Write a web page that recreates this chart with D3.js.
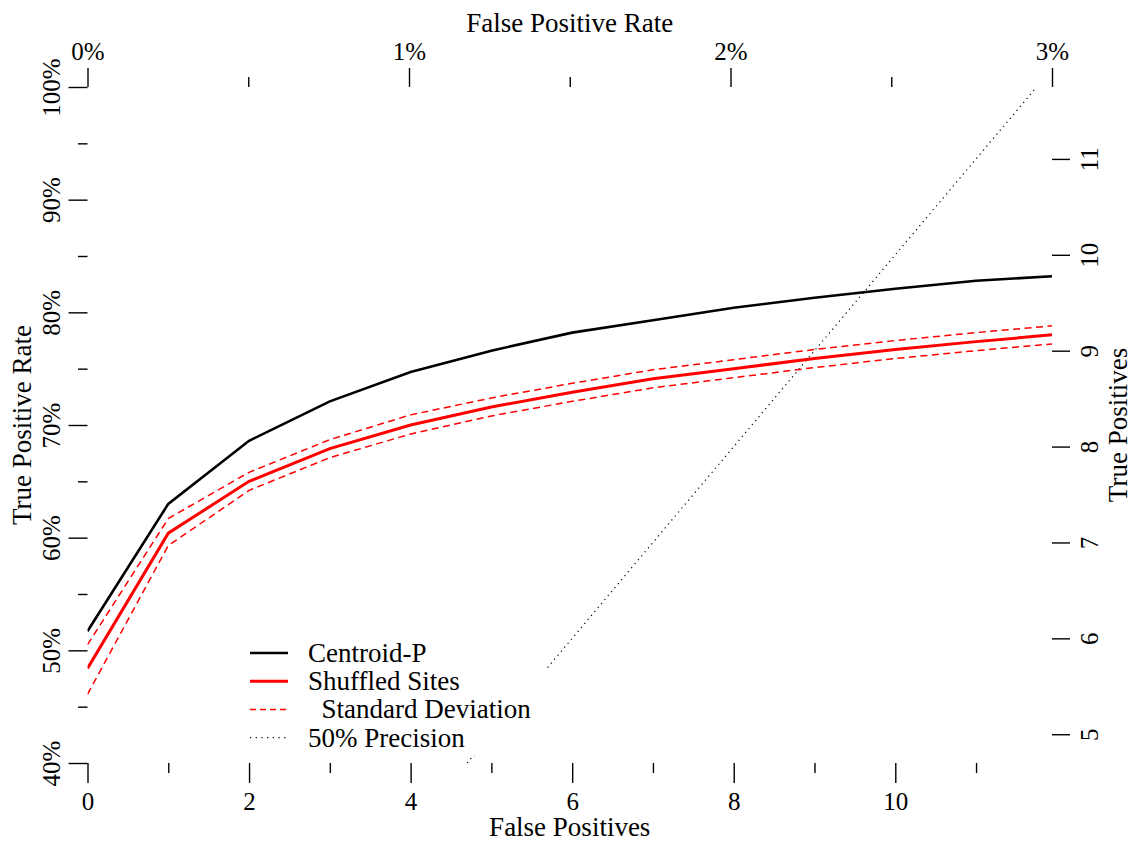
<!DOCTYPE html>
<meta charset="utf-8">
<style>
body { margin: 0; background: #fff; }
text { font-family: "Liberation Serif", "Times New Roman", serif; fill: #000; }
.tick text { font-size: 25px; }
.title, .legend text { font-size: 27px; }
.tick line { stroke: #000; stroke-width: 1.4px; }
.curve { fill: none; }
</style>
<body>
<script src="https://d3js.org/d3.v7.min.js"></script>
<script>

var width = 1133,
    height = 842;
var margin = {top: 87, right: 81, bottom: 79, left: 87.5};

// data
var falsePositives = [0, 1, 2, 3, 4, 5, 6, 7, 8, 9, 10, 11, 11.94];
var centroidP = [0.517, 0.630, 0.686, 0.721, 0.747, 0.766, 0.782, 0.793, 0.804, 0.813, 0.821, 0.828, 0.832];
var shuffledMean = [0.484, 0.604, 0.650, 0.679, 0.700, 0.716, 0.729, 0.741, 0.750, 0.759, 0.767, 0.774, 0.780];
var shuffledUpper = [0.505, 0.617, 0.658, 0.687, 0.709, 0.724, 0.737, 0.749, 0.758, 0.767, 0.775, 0.782, 0.788];
var shuffledLower = [0.461, 0.593, 0.642, 0.671, 0.692, 0.708, 0.721, 0.733, 0.742, 0.751, 0.759, 0.766, 0.772];

var negatives = 398;     // false positive rate denominator
var positives = 11.75;   // true positive rate denominator

var bottomMajor = [0, 2, 4, 6, 8, 10];
var bottomMinor = [1, 3, 5, 7, 9, 11];
var topMajor = [0, 0.01, 0.02, 0.03];
var topMinor = [0.005, 0.015, 0.025];
var leftMajor = [0.4, 0.5, 0.6, 0.7, 0.8, 0.9, 1.0];
var leftMinor = [0.45, 0.55, 0.65, 0.75, 0.85, 0.95];
var rightTicks = [5, 6, 7, 8, 9, 10, 11];

var legendItems = ["Centroid-P", "Shuffled Sites", "  Standard Deviation", "50% Precision"];

var x = d3.scaleLinear()
    .domain([0, 0.03 * negatives])
    .range([margin.left, width - margin.right]);
var xTop = d3.scaleLinear()
    .domain([0, 0.03])
    .range([x(0), x(0.03 * negatives)]);
var y = d3.scaleLinear()
    .domain([0.4, 1.0])
    .range([height - margin.bottom, margin.top]);
var yRight = d3.scaleLinear()
    .domain([0, positives])
    .range([y(0), y(1)]);

var svg = d3.select("body").append("svg")
    .attr("width", width)
    .attr("height", height);

svg.append("clipPath").attr("id", "plot")
  .append("rect")
    .attr("x", x.range()[0]).attr("y", y.range()[1])
    .attr("width", x.range()[1] - x.range()[0])
    .attr("height", y.range()[0] - y.range()[1]);

function styleAxis(g) {
  g.attr("font-family", null).attr("font-size", null);
  g.select(".domain").remove();
}

// bottom axis
svg.append("g")
    .attr("transform", "translate(0," + y.range()[0] + ")")
    .call(d3.axisBottom(x).tickValues(bottomMajor).tickSize(20).tickFormat(d3.format("d")))
    .call(styleAxis)
    .selectAll("text").attr("y", 47).attr("dy", null);
svg.append("g")
    .attr("transform", "translate(0," + y.range()[0] + ")")
    .call(d3.axisBottom(x).tickValues(bottomMinor).tickSize(10).tickFormat(""))
    .call(styleAxis);

// top axis
svg.append("g")
    .attr("transform", "translate(0," + y.range()[1] + ")")
    .call(d3.axisTop(xTop).tickValues(topMajor).tickSize(19).tickFormat(d3.format(".0%")))
    .call(styleAxis)
    .selectAll("text").attr("y", -27).attr("dy", null);
svg.append("g")
    .attr("transform", "translate(0," + y.range()[1] + ")")
    .call(d3.axisTop(xTop).tickValues(topMinor).tickSize(10).tickFormat(""))
    .call(styleAxis);

// left axis
svg.append("g")
    .attr("transform", "translate(" + x.range()[0] + ",0)")
    .call(d3.axisLeft(y).tickValues(leftMajor).tickSize(19).tickFormat(d3.format(".0%")))
    .call(styleAxis)
    .selectAll("text")
    .attr("transform", "rotate(-90)")
    .attr("x", 0).attr("y", -28).attr("dy", null)
    .attr("text-anchor", "middle");
svg.append("g")
    .attr("transform", "translate(" + x.range()[0] + ",0)")
    .call(d3.axisLeft(y).tickValues(leftMinor).tickSize(9.5).tickFormat(""))
    .call(styleAxis);

// right axis
svg.append("g")
    .attr("transform", "translate(" + x.range()[1] + ",0)")
    .call(d3.axisRight(yRight).tickValues(rightTicks).tickSize(18).tickFormat(d3.format("d")))
    .call(styleAxis)
    .selectAll("text")
    .attr("transform", "rotate(-90)")
    .attr("x", 0).attr("y", 46).attr("dy", null)
    .attr("text-anchor", "middle");

// axis titles
var midX = (x.range()[0] + x.range()[1]) / 2,
    midY = (y.range()[0] + y.range()[1]) / 2;
svg.append("text").attr("class", "title").attr("x", midX).attr("y", 32)
    .attr("text-anchor", "middle").text("False Positive Rate");
svg.append("text").attr("class", "title").attr("x", midX).attr("y", 836)
    .attr("text-anchor", "middle").text("False Positives");
svg.append("text").attr("class", "title").attr("transform", "translate(31," + midY + ") rotate(-90)")
    .attr("text-anchor", "middle").text("True Positive Rate");
svg.append("text").attr("class", "title").attr("transform", "translate(1127," + midY + ") rotate(-90)")
    .attr("text-anchor", "middle").text("True Positives");

var line = d3.line()
    .x(function(d, i) { return x(falsePositives[i]); })
    .y(function(d) { return y(d); });

var plot = svg.append("g").attr("clip-path", "url(#plot)");

// 50% precision: true positives == false positives
plot.append("path")
    .datum([0.4 * positives, positives])
    .attr("class", "curve")
    .attr("d", d3.line().x(function(d) { return x(d); }).y(function(d) { return yRight(d); }))
    .attr("stroke", "#000")
    .attr("stroke-width", 1.2)
    .attr("stroke-dasharray", "1.2,4");

plot.append("path").datum(shuffledUpper).attr("class", "curve").attr("d", line)
    .attr("stroke", "#ff0000").attr("stroke-width", 1.5).attr("stroke-dasharray", "7,4.5");
plot.append("path").datum(shuffledLower).attr("class", "curve").attr("d", line)
    .attr("stroke", "#ff0000").attr("stroke-width", 1.5).attr("stroke-dasharray", "7,4.5");
plot.append("path").datum(shuffledMean).attr("class", "curve").attr("d", line)
    .attr("stroke", "#ff0000").attr("stroke-width", 3);
plot.append("path").datum(centroidP).attr("class", "curve").attr("d", line)
    .attr("stroke", "#000").attr("stroke-width", 2.6);

// legend
var legendStyles = [
  {stroke: "#000", width: 2.6, dash: null},
  {stroke: "#ff0000", width: 3, dash: null},
  {stroke: "#ff0000", width: 1.5, dash: "6,4"},
  {stroke: "#000", width: 1.2, dash: "1.2,4.5"}
];
var legend = svg.append("g").attr("class", "legend").attr("transform", "translate(238,632)");
legend.append("rect")
    .attr("width", 308).attr("height", 123)
    .attr("fill", "#fff");
var rows = legend.selectAll("g.row")
    .data(legendItems)
  .enter().append("g")
    .attr("class", "row")
    .attr("transform", function(d, i) { return "translate(0," + (21 + i * 28.2) + ")"; });
rows.append("line")
    .attr("x1", 12).attr("x2", 50)
    .attr("stroke", function(d, i) { return legendStyles[i].stroke; })
    .attr("stroke-width", function(d, i) { return legendStyles[i].width; })
    .attr("stroke-dasharray", function(d, i) { return legendStyles[i].dash; });
rows.append("text")
    .attr("x", 70).attr("y", 9)
    .attr("xml:space", "preserve")
    .style("white-space", "pre")
    .text(function(d) { return d; });

</script>
</body>
